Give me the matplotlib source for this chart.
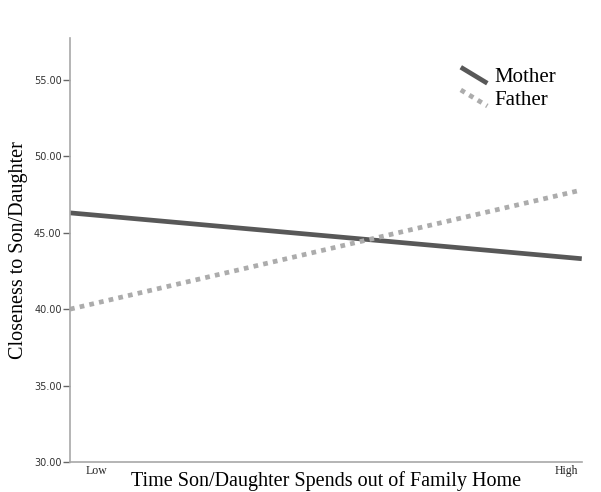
import matplotlib.pyplot as plt
from matplotlib.legend_handler import HandlerLine2D

# time spent out of family home (low / high)
x_pos = [0, 1]
x_labels = ["Low", "High"]

mother = [46.3, 43.3]
father = [40.0, 47.8]

y_ticks = [30, 35, 40, 45, 50, 55]


class DiagHandler(HandlerLine2D):
    # slanted legend glyph like the original
    def create_artists(self, legend, orig_handle, xdescent, ydescent,
                       width, height, fontsize, trans):
        line = plt.Line2D([0, width * 0.85], [height * 1.0, -height * 0.1])
        self.update_prop(line, orig_handle, legend)
        line.set_transform(trans)
        return [line]


fig = plt.figure(figsize=(6.01, 4.92), dpi=100)
ax = fig.add_axes([0.1165, 0.061, 0.8515, 0.862])

ax.plot(x_pos, mother, color="#585858", lw=3.4, solid_capstyle="butt", label="Mother")
ax.plot(x_pos, father, color="#acacac", lw=3.4, linestyle=(0, (1, 1.1)),
        dash_capstyle="butt", label="Father")

ax.set_xlim(0, 1)
ax.set_ylim(30, 57.75)
ax.set_yticks(y_ticks)
ax.set_yticklabels(["%.2f" % v for v in y_ticks], fontsize=7,
                   family=["Liberation Sans Narrow", "DejaVu Sans Condensed"], color="#333333")
ax.set_xticks([0.051, 0.969])
ax.set_xticklabels(x_labels, fontsize=8.5, family="Liberation Serif", color="#222222")
ax.tick_params(axis="x", length=0, pad=2)
ax.tick_params(axis="y", length=5, width=1, color="#666666", pad=1)

for s in ["top", "right"]:
    ax.spines[s].set_visible(False)
for s in ["left", "bottom"]:
    ax.spines[s].set_color("#a8a8a8")
    ax.spines[s].set_linewidth(1.2)

ax.set_xlabel("Time Son/Daughter Spends out of Family Home", fontsize=14.5,
              family="Liberation Serif", labelpad=-4)
ax.set_ylabel("Closeness to Son/Daughter", fontsize=14.5, family="Liberation Serif", labelpad=4)

ax.legend(loc="upper right", bbox_to_anchor=(0.986, 0.975), frameon=False,
          prop={"family": "Liberation Serif", "size": 15},
          handlelength=1.5, handletextpad=0.1, labelspacing=0.15,
          handler_map={plt.Line2D: DiagHandler()})

fig.savefig("out.png", dpi=100)
